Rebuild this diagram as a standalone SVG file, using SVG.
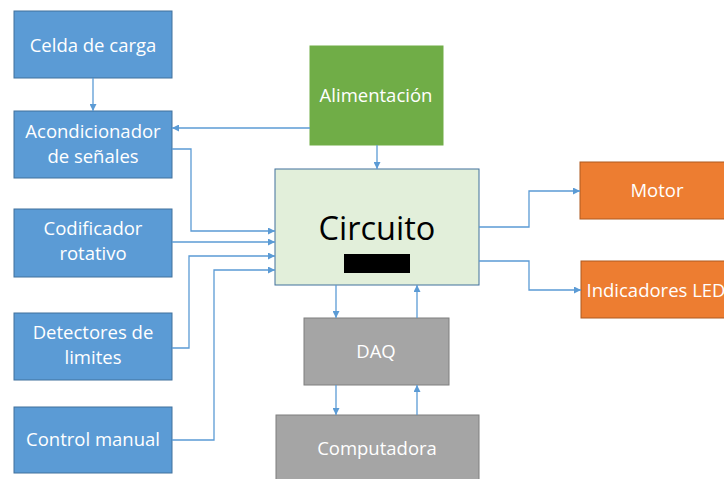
<svg xmlns="http://www.w3.org/2000/svg" width="724" height="479" viewBox="0 0 724 479">
<defs>
<style>
.blue{fill:#5B9BD5;stroke:#41719C;stroke-width:1}
.green{fill:#70AD47;stroke:#70AD47;stroke-width:1}
.orange{fill:#ED7D31;stroke:#AE5A21;stroke-width:1}
.gray{fill:#A5A5A5;stroke:#7F7F7F;stroke-width:1}
.circ{fill:#E2EFDA;stroke:#41719C;stroke-width:1}
.t{font-family:"Open Sans","Liberation Sans",sans-serif;font-size:18.5px;fill:#ffffff;text-anchor:middle}
.big{font-family:"Open Sans","Liberation Sans",sans-serif;font-size:32.5px;fill:#000000;text-anchor:middle}
.c{fill:none;stroke:#5B9BD5;stroke-width:1.3;marker-end:url(#ah)}
</style>
<marker id="ah" viewBox="0 0 10 10" refX="10" refY="5" markerWidth="7" markerHeight="7" markerUnits="userSpaceOnUse" orient="auto">
<path d="M0,0 L10,5 L0,10 z" fill="#5B9BD5"/>
</marker>
</defs>
<rect width="724" height="479" fill="#ffffff"/>
<g id="celda"><rect class="blue" x="14" y="11" width="158" height="67"/><text class="t" x="93" y="52">Celda de carga</text></g>
<g id="acond"><rect class="blue" x="14" y="111" width="158" height="67"/><text class="t" x="93" y="138">Acondicionador</text><text class="t" x="93" y="163">de señales</text></g>
<g id="codif"><rect class="blue" x="14" y="209" width="158" height="68"/><text class="t" x="93" y="235">Codificador</text><text class="t" x="93" y="260">rotativo</text></g>
<g id="detect"><rect class="blue" x="14" y="313" width="158" height="67"/><text class="t" x="93" y="339">Detectores de</text><text class="t" x="93" y="364">limites</text></g>
<g id="control"><rect class="blue" x="14" y="407" width="158" height="66"/><text class="t" x="93" y="446">Control manual</text></g>
<g id="alim"><rect class="green" x="310" y="46" width="133" height="99"/><text class="t" x="376" y="102">Alimentación</text></g>
<g id="circuito"><rect class="circ" x="275" y="169" width="204" height="116"/><text class="big" x="377" y="240">Circuito</text><rect x="344" y="254" width="66" height="19" fill="#000000"/></g>
<g id="motor"><rect class="orange" x="580" y="162" width="150" height="57"/><text class="t" x="657" y="197">Motor</text></g>
<g id="led"><rect class="orange" x="581" y="261" width="150" height="57"/><text class="t" x="656" y="297">Indicadores LED</text></g>
<g id="daq"><rect class="gray" x="304" y="318" width="145" height="67"/><text class="t" x="376" y="358">DAQ</text></g>
<g id="comp"><rect class="gray" x="276" y="415" width="203" height="70"/><text class="t" x="377" y="455">Computadora</text></g>
<g id="connectors">
<path class="c" d="M93,78 V111"/>
<path class="c" d="M310,128 H172"/>
<path class="c" d="M377,145 V169"/>
<path class="c" d="M172,149 H191 V231 H275"/>
<path class="c" d="M172,242 H275"/>
<path class="c" d="M172,348 H189 V256 H275"/>
<path class="c" d="M172,440 H214 V270 H275"/>
<path class="c" d="M479,227 H529 V191 H580"/>
<path class="c" d="M479,261 H529 V290 H581"/>
<path class="c" d="M336,285 V318"/>
<path class="c" d="M417,318 V285"/>
<path class="c" d="M336,385 V415"/>
<path class="c" d="M417,415 V385"/>
</g>
</svg>
